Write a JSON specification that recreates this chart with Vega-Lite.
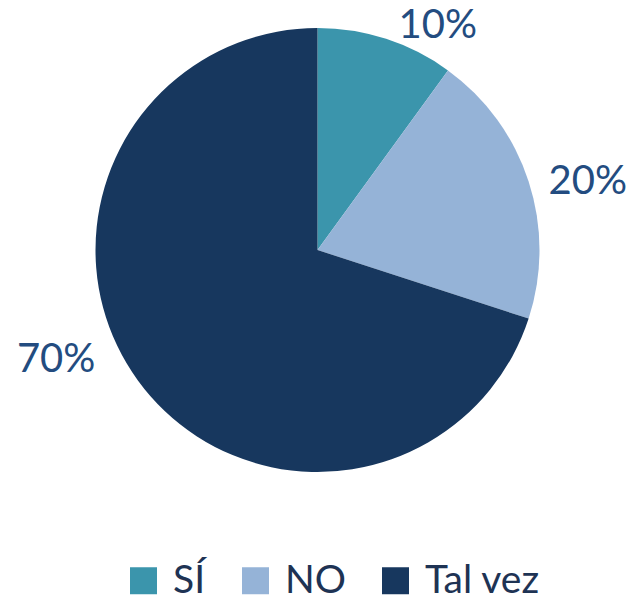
{
  "$schema": "https://vega.github.io/schema/vega-lite/v6.json",
  "width": 635,
  "height": 500,
  "autosize": {"type": "none"},
  "padding": {"top": 0, "left": 0, "right": 0, "bottom": 102},
  "background": "white",
  "data": {"values": [
    {"categoria": "SÍ", "valor": 0.1, "orden": 1},
    {"categoria": "NO", "valor": 0.2, "orden": 2},
    {"categoria": "Tal vez", "valor": 0.7, "orden": 3}
  ]},
  "encoding": {
    "theta": {"field": "valor", "type": "quantitative", "stack": true},
    "order": {"field": "orden", "type": "quantitative"}
  },
  "layer": [
    {
      "mark": {"type": "arc", "outerRadius": 222},
      "encoding": {
        "color": {
          "field": "categoria", "type": "nominal",
          "scale": {"domain": ["SÍ", "NO", "Tal vez"], "range": ["#3B95AC", "#95B3D7", "#17375E"]},
          "legend": {
            "title": null, "orient": "none", "direction": "horizontal",
            "legendX": 124, "legendY": 561, "padding": 0,
            "symbolType": "square", "symbolSize": 729, "symbolStrokeWidth": 0,
            "labelFontSize": 39, "labelFont": "Lato", "labelColor": "#1E3354",
            "labelOffset": 10, "columnPadding": 30, "labelLimit": 300
          }
        }
      }
    },
    {
      "mark": {"type": "text", "radius": 260, "dx": 40, "dy": 23, "fontSize": 40, "font": "Lato", "color": "#234C80", "align": "center", "baseline": "middle"},
      "encoding": {"text": {"condition": {"test": "datum.categoria === 'SÍ'", "field": "valor", "format": ".0%"}, "value": ""}}
    },
    {
      "mark": {"type": "text", "radius": 260, "dx": 23, "dy": 12, "fontSize": 40, "font": "Lato", "color": "#234C80", "align": "center", "baseline": "middle"},
      "encoding": {"text": {"condition": {"test": "datum.categoria === 'NO'", "field": "valor", "format": ".0%"}, "value": ""}}
    },
    {
      "mark": {"type": "text", "radius": 260, "dx": -51, "dy": -43, "fontSize": 40, "font": "Lato", "color": "#234C80", "align": "center", "baseline": "middle"},
      "encoding": {"text": {"condition": {"test": "datum.categoria === 'Tal vez'", "field": "valor", "format": ".0%"}, "value": ""}}
    }
  ],
  "config": {"view": {"stroke": null}}
}
